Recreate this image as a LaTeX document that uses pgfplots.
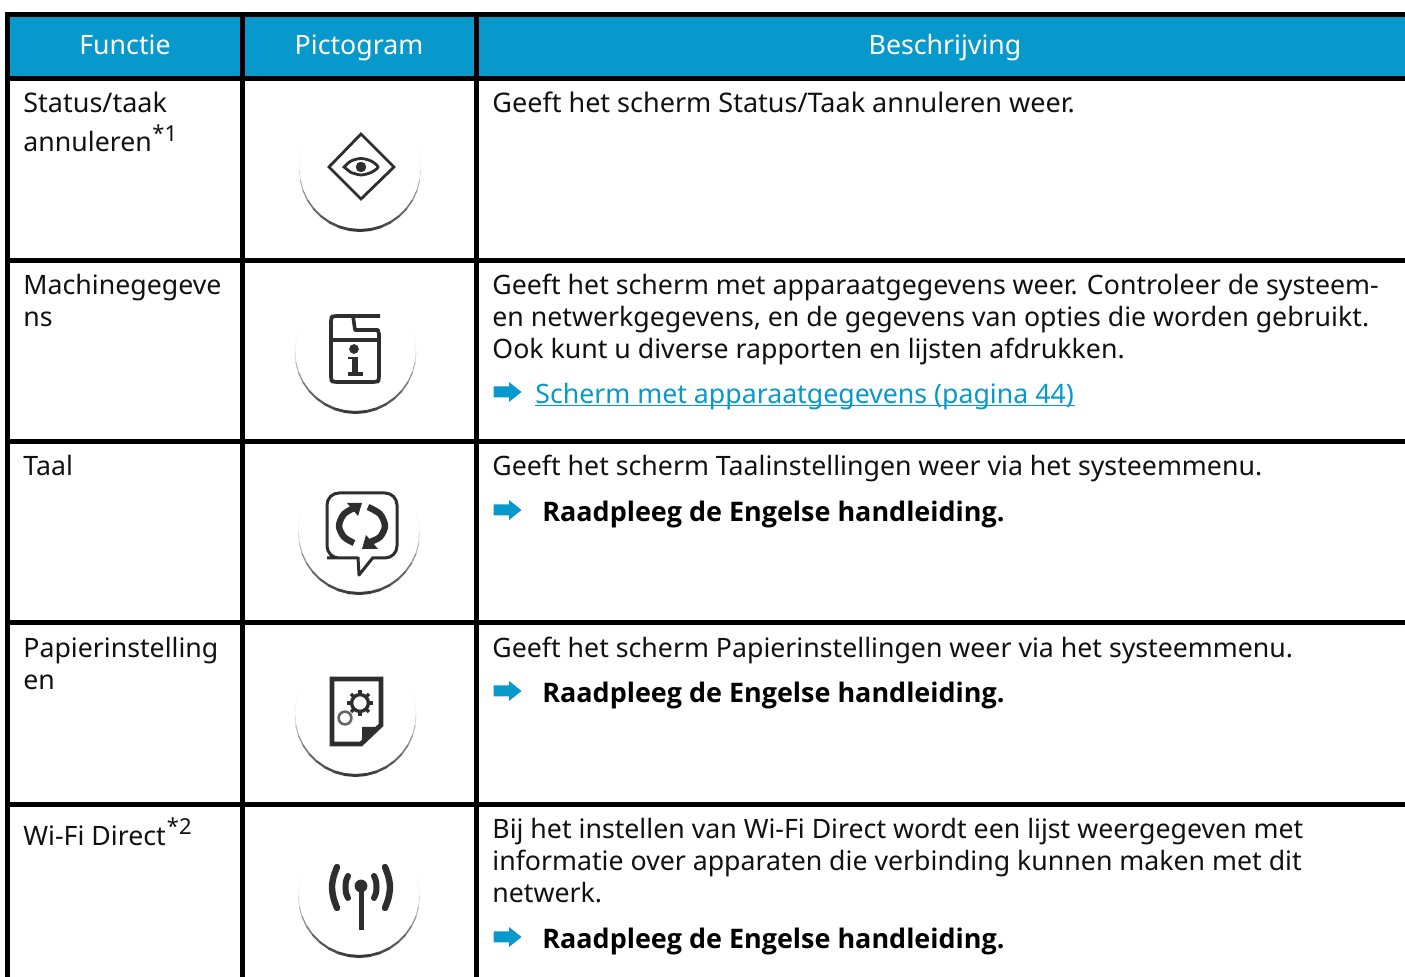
\documentclass[border=0pt]{standalone}
\usepackage{pgfplots}
\pgfplotsset{compat=1.18}
\usepackage{fontspec}
\setmainfont{Noto Sans}
\newfontfamily\nbold{Open Sans}
\definecolor{kblue}{HTML}{0899CC}
\definecolor{ktext}{HTML}{111111}
\definecolor{kicon}{HTML}{2E2E2E}
\newcommand{\Tx}[3]{\node[anchor=base west,inner sep=0pt,text=ktext,font=\fontsize{13.35}{16}\selectfont] at (axis cs:#1,#2) {#3};}
\newcommand{\TxL}[3]{\node[anchor=base west,inner sep=0pt,text=ktext,font=\fontsize{13.5}{16}\selectfont] at (axis cs:#1,#2) {#3};}
\newcommand{\TxB}[3]{\node[anchor=base west,inner sep=0pt,text=black,font=\nbold\bfseries\fontsize{13.47}{16}\selectfont] at (axis cs:#1,#2) {#3};}
\newcommand{\TxS}[3]{\node[anchor=base west,inner sep=0pt,text=ktext,font=\fontsize{11}{13}\selectfont] at (axis cs:#1,#2) {#3};}
\newcommand{\TxH}[3]{\node[anchor=base,inner sep=0pt,text=white,font=\fontsize{13.35}{16}\selectfont] at (axis cs:#1,#2) {#3};}
\newcommand{\Bx}[5]{\addplot[fill=#5,draw=none] coordinates {(#1,#2) (#3,#2) (#3,#4) (#1,#4)} --cycle;}
\newcommand{\Seg}[6]{%
 \addplot[line width=#3pt,color=black!#4,line cap=round,xshift=#1*0.5pt,yshift=-#2*0.5pt] coordinates {#5};
 \addplot[line width=#3pt,color=black!#4,line cap=round,xshift=#1*0.5pt,yshift=-#2*0.5pt] coordinates {#6};}
\newcommand{\IconArc}[2]{%
 \Seg{#1}{#2}{0.3}{3}{(416.9,149.3) (419.6,159.5)}{(303.1,149.3) (300.4,159.5)}
 \Seg{#1}{#2}{0.35}{6}{(419.6,159.5) (420.5,170)}{(300.4,159.5) (299.5,170)}
 \Seg{#1}{#2}{0.45}{14}{(420.5,170) (419.6,180.5)}{(299.5,170) (300.4,180.5)}
 \Seg{#1}{#2}{0.55}{28}{(419.6,180.5) (416.9,190.7)}{(300.4,180.5) (303.1,190.7)}
 \Seg{#1}{#2}{0.65}{42}{(416.9,190.7) (412.4,200.25)}{(303.1,190.7) (307.6,200.25)}
 \Seg{#1}{#2}{0.8}{52}{(412.4,200.25) (406.3,208.9)}{(307.6,200.25) (313.7,208.9)}
 \Seg{#1}{#2}{0.95}{60}{(406.3,208.9) (398.9,216.3)}{(313.7,208.9) (321.1,216.3)}
 \Seg{#1}{#2}{1.1}{65}{(398.9,216.3) (390.25,222.4)}{(321.1,216.3) (329.75,222.4)}
 \Seg{#1}{#2}{1.25}{70}{(390.25,222.4) (380.7,226.9)}{(329.75,222.4) (339.3,226.9)}
 \Seg{#1}{#2}{1.4}{74}{(380.7,226.9) (370.5,229.6)}{(339.3,226.9) (349.5,229.6)}
 \Seg{#1}{#2}{1.5}{78}{(370.5,229.6) (360,230.5)}{(349.5,229.6) (360,230.5)}
}
\newcommand{\KArrow}[1]{\addplot[fill=kblue,draw=none,yshift=-#1*0.5pt] coordinates {(493.5,386.5) (509,386.5) (509,382) (521.5,392) (509,402) (509,397.5) (493.5,397.5)} --cycle;}
\newcommand{\Ln}[2][]{\addplot[color=kicon,line width=1.8pt,line join=round,#1] coordinates {#2};}
\begin{document}
\begin{tikzpicture}
\begin{axis}[
  scale only axis, width=702.5pt, height=488.5pt,
  xmin=0, xmax=1405, ymin=0, ymax=977, y dir=reverse,
  hide axis, clip=true]
% page
\Bx{0}{0}{1405}{977}{white}
% header
\Bx{10}{17}{1405}{76}{kblue}
% rules
\Bx{5}{12}{1405}{17}{black}
\Bx{5}{76}{1405}{81}{black}
\Bx{5}{258}{1405}{263}{black}
\Bx{5}{439}{1405}{444}{black}
\Bx{5}{620}{1405}{625}{black}
\Bx{5}{802}{1405}{807}{black}
\Bx{5}{12}{10}{977}{black}
\Bx{240}{12}{245}{977}{black}
\Bx{474}{12}{479}{977}{black}
% header text
\TxH{125}{55}{Functie}
\TxH{359}{55}{Pictogram}
\TxH{945}{55}{Beschrijving}
% column 1
\TxL{23}{113}{Status/taak}
\Tx{23}{152}{annuleren}
\TxS{152}{142}{*1}
\Tx{23}{295}{Machinegegeve}
\Tx{23}{327}{ns}
\Tx{23}{476}{Taal}
\Tx{23}{658}{Papierinstelling}
\Tx{23}{690}{en}
\Tx{23}{846}{Wi-Fi Direct}
\TxS{166.5}{835}{*2}
% column 3
\TxL{492}{113}{Geeft het scherm Status/Taak annuleren weer.}
\Tx{492}{295}{Geeft het scherm met apparaatgegevens weer. Controleer de systeem-}
\Tx{492}{327}{en netwerkgegevens, en de gegevens van opties die worden gebruikt.}
\Tx{492}{359}{Ook kunt u diverse rapporten en lijsten afdrukken.}
\node[anchor=base west,inner sep=0pt,text=kblue,font=\fontsize{13.35}{16}\selectfont] at (axis cs:535,404) {Scherm met apparaatgegevens (pagina 44)};
\addplot[color=kblue,line width=0.7pt] coordinates {(535,405.5) (1075,405.5)};
\Tx{492}{476}{Geeft het scherm Taalinstellingen weer via het systeemmenu.}
\TxB{542}{522}{Raadpleeg de Engelse handleiding.}
\Tx{492}{658}{Geeft het scherm Papierinstellingen weer via het systeemmenu.}
\TxB{542}{703}{Raadpleeg de Engelse handleiding.}
\Tx{492}{839}{Bij het instellen van Wi-Fi Direct wordt een lijst weergegeven met}
\Tx{492}{871}{informatie over apparaten die verbinding kunnen maken met dit}
\Tx{492}{903}{netwerk.}
\TxB{542}{949}{Raadpleeg de Engelse handleiding.}
% arrows
\KArrow{0}
\KArrow{118}
\KArrow{299}
\KArrow{545}
% arcs
\IconArc{0}{0}
\IconArc{-4.5}{182}
\IconArc{-1}{363}
\IconArc{-4.5}{545}
\IconArc{-1}{726}
% icon 1: diamond + eye
\addplot[color=kicon,line width=1.4pt,line join=miter] coordinates {(361,134) (394,167) (361,199) (329,167)} --cycle;
\addplot[color=kicon,line width=1.4pt,smooth] coordinates {(344,167) (351,161) (361,158.5) (371,161) (378,167) (371,172.5) (361,175) (351,172.5)} --cycle;
\addplot[only marks,mark=*,mark size=2.4pt,color=kicon] coordinates {(361,167)};
% icon 2: info
\Ln[rounded corners=1.5pt]{(380,316) (333,316) (331,318) (331,380) (333,382) (377,382) (379,380) (379,333)}
\Ln{(353,316) (355,330) (378,330) (379,335)}
\Ln{(331,340) (379,340)}
\addplot[only marks,mark=*,mark size=2.2pt,color=kicon] coordinates {(354,349)};
\Ln[line width=2.8pt]{(355,357) (355,374)}
\Ln[line width=1.4pt]{(348,358) (356,358)}
\Ln[line width=1.6pt]{(348,374) (363,374)}
% icon 3: bubble
\addplot[color=kicon,line width=1.5pt,rounded corners=6pt] coordinates {(358,558) (339,558) (327,558) (327,493) (397,493) (397,558) (372,558)};
\Ln[line width=1.5pt]{(358,557) (359,575) (373,557.5)}
\addplot[color=kicon,line width=3.2pt,smooth] coordinates {(356,507) (344,514) (339,526) (344,537) (354,543)};
\addplot[color=kicon,line width=3.2pt,smooth] coordinates {(368,507) (380,514) (385,526) (380,537) (370,542)};
\addplot[fill=kicon,draw=none] coordinates {(347,503) (362,503) (358,516)} --cycle;
\addplot[fill=kicon,draw=none] coordinates {(362,549) (378,549) (366,535)} --cycle;
% icon 4: doc + gears
\addplot[color=kicon,line width=2.4pt,line join=miter] coordinates {(332,679) (381,679) (381,725) (361,744) (332,744)} --cycle;
\addplot[fill=kicon,draw=none] coordinates {(362,727) (381,727) (362,745)} --cycle;
\addplot[only marks,mark=o,mark size=4.2pt,mark options={draw=kicon,fill=none,line width=1.7pt}] coordinates {(360,703)};
\addplot[only marks,mark=o,mark size=3.2pt,mark options={draw=black!60,fill=none,line width=1.3pt}] coordinates {(345,718)};
\Ln[line width=1.7pt]{(369,703) (373,703)}
\Ln[line width=1.7pt]{(366,697) (369,694)}
\Ln[line width=1.7pt]{(360,694) (360,690)}
\Ln[line width=1.7pt]{(354,697) (351,694)}
\Ln[line width=1.7pt]{(351,703) (347,703)}
\Ln[line width=1.7pt]{(354,709) (351,712)}
\Ln[line width=1.7pt]{(360,712) (360,716)}
\Ln[line width=1.7pt]{(366,709) (369,712)}
% icon 5: antenna
\Ln[line width=2.5pt]{(361,886) (361,930)}
\addplot[only marks,mark=*,mark size=3pt,color=kicon] coordinates {(361,886)};
\addplot[color=kicon,line width=3pt,smooth,line cap=round] coordinates {(348,876) (346,881) (345.5,887) (346,893) (348,898)};
\addplot[color=kicon,line width=3pt,smooth,line cap=round] coordinates {(374,876) (376,881) (376.5,887) (376,893) (374,898)};
\addplot[color=kicon,line width=3.2pt,smooth,line cap=round] coordinates {(337,867) (333.5,877) (332,887) (333.5,898) (337,908)};
\addplot[color=kicon,line width=3.2pt,smooth,line cap=round] coordinates {(385,867) (388.5,877) (390,887) (388.5,898) (385,908)};
\end{axis}
\end{tikzpicture}
\end{document}
